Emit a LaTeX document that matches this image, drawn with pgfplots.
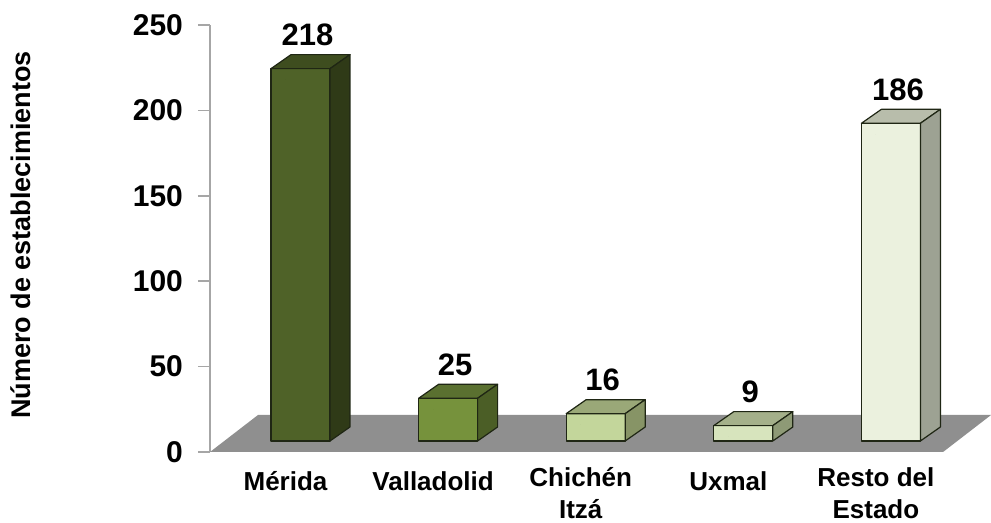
\documentclass[border=0pt]{standalone}
\usepackage{pgfplots}
\pgfplotsset{compat=1.18}
\usepackage{fontspec}
\setmainfont{Liberation Sans}

\definecolor{floorgray}{HTML}{8F8F8F}
\definecolor{axisgray}{HTML}{A6A6A6}
\definecolor{edge}{HTML}{1F2614}
\definecolor{merfront}{HTML}{4F6228}
\definecolor{mertop}{HTML}{3E4D1F}
\definecolor{merside}{HTML}{2F3A17}
\definecolor{valfront}{HTML}{76923C}
\definecolor{valtop}{HTML}{5A7030}
\definecolor{valside}{HTML}{4B5E26}
\definecolor{chifront}{HTML}{C3D69B}
\definecolor{chitop}{HTML}{9AA878}
\definecolor{chiside}{HTML}{879466}
\definecolor{uxmfront}{HTML}{D7E4BD}
\definecolor{uxmtop}{HTML}{A4B08A}
\definecolor{uxmside}{HTML}{8E9A76}
\definecolor{resfront}{HTML}{EBF1DE}
\definecolor{restop}{HTML}{B8BDAB}
\definecolor{resside}{HTML}{9DA293}

% 3D box drawn at each data point; 0.854pt per unit on y
\pgfplotsset{
  box/.style n args={3}{
    only marks, mark=*, mark size=0pt,
    mark options={draw=none, fill=none},
    scatter,
    visualization depends on={rawy \as \val},
    scatter/@pre marker code/.code={
      \pgfmathsetmacro\hgt{\val*0.854}
      \pgfmathsetmacro\bbot{5.5-\hgt}
      \pgfmathtruncatemacro\lab{round(\val)}
      \filldraw[fill=#1, draw=edge, line width=0.6pt, line join=round]
        (-7.25pt,\bbot pt) rectangle (22.25pt,5.5pt);
      \filldraw[fill=#2, draw=edge, line width=0.6pt, line join=round]
        (-7.25pt,5.5pt) -- (22.25pt,5.5pt) -- (32.25pt,12.5pt) -- (2.75pt,12.5pt) -- cycle;
      \filldraw[fill=#3, draw=edge, line width=0.6pt, line join=round]
        (22.25pt,5.5pt) -- (32.25pt,12.5pt) -- (32.25pt,\bbot pt+7pt) -- (22.25pt,\bbot pt) -- cycle;
      \node[font=\bfseries\fontsize{15.5}{15.5}\selectfont, anchor=base, inner sep=0pt]
        at (11pt,17pt) {\lab};
    },
    scatter/@post marker code/.code={},
  },
}

\begin{document}
\begin{tikzpicture}
\begin{axis}[
  x=73.8pt, y=0.854pt,
  xmin=-0.5115, xmax=4.455, ymin=0, ymax=250,
  axis lines*=left,
  x axis line style={draw=none},
  y axis line style={draw=axisgray, line width=0.8pt, -},
  ytick={0,50,...,250},
  xtick={0,...,4},
  xticklabels={Mérida, Valladolid, {Chichén\\Itzá}, Uxmal, {Resto del\\Estado}},
  xticklabel style={align=center, anchor=north, inner sep=0pt, yshift=-1.5pt,
    font=\bfseries\fontsize{13}{16}\selectfont,
    execute at begin node={\vphantom{É}}},
  xtick style={draw=none},
  ytick style={draw=axisgray, line width=0.8pt},
  tick align=outside, major tick length=6pt,
  yticklabel style={font=\bfseries\fontsize{15}{15}\selectfont, xshift=-4pt},
  /pgf/number format/assume math mode=true,
  ylabel={Número de establecimientos},
  every axis y label/.style={at={([xshift=-94.5pt]axis description cs:0,0.508)},
    rotate=90, anchor=center, font=\bfseries\fontsize{13.5}{13.5}\selectfont},
  clip=false,
]
\coordinate (O) at (axis cs:-0.5115,0);
\fill[floorgray] (axis cs:-0.5115,0) -- (axis cs:4.455,0)
  -- ([shift={(24pt,18.5pt)}]axis cs:4.455,0)
  -- ([shift={(24pt,18.5pt)}]axis cs:-0.5115,0) -- cycle;
\addplot[box={merfront}{mertop}{merside}] coordinates {(0,218)};
\addplot[box={valfront}{valtop}{valside}] coordinates {(1,25)};
\addplot[box={chifront}{chitop}{chiside}] coordinates {(2,16)};
\addplot[box={uxmfront}{uxmtop}{uxmside}] coordinates {(3,9)};
\addplot[box={resfront}{restop}{resside}] coordinates {(4,186)};
\end{axis}
\pgfresetboundingbox
\useasboundingbox ([shift={(-105pt,-35.5pt)}]O) rectangle ([shift={(390.5pt,226pt)}]O);
\end{tikzpicture}
\end{document}
